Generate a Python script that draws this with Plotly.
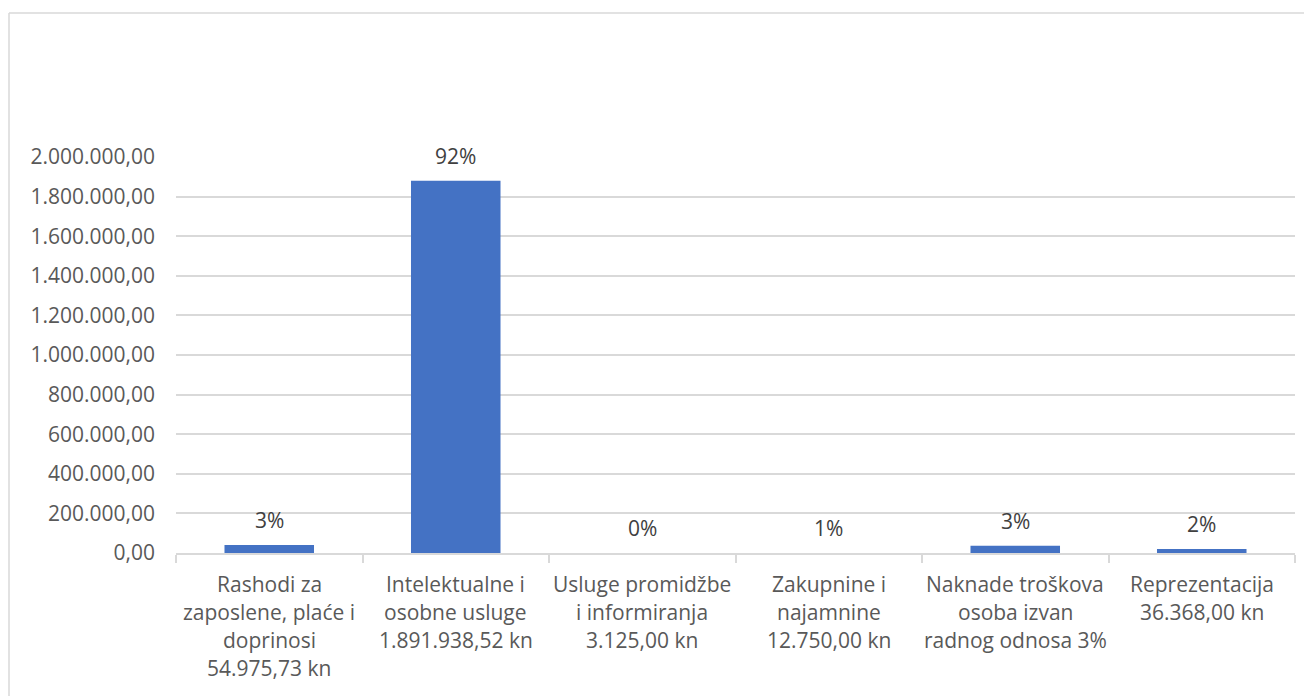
import plotly.graph_objects as go

# Categories (each as list of label lines)
category_lines = [
    ["Rashodi za", "zaposlene, plaće i", "doprinosi", "54.975,73 kn"],
    ["Intelektualne i", "osobne usluge", "1.891.938,52 kn"],
    ["Usluge promidžbe", "i informiranja", "3.125,00 kn"],
    ["Zakupnine i", "najamnine", "12.750,00 kn"],
    ["Naknade troškova", "osoba izvan", "radnog odnosa 3%"],
    ["Reprezentacija", "36.368,00 kn"],
]
categories = [" ".join(l) for l in category_lines]

# Bar heights
values = [40000, 1880000, 0, 0, 36000, 20000]

# Percentage labels
pct_labels = ["3%", "92%", "0%", "1%", "3%", "2%"]

# Y ticks
y_ticks = [0, 200000, 400000, 600000, 800000, 1000000, 1200000, 1400000,
           1600000, 1800000, 2000000]

FONT = "Open Sans"
FS = 21
TXT = "#595959"
GRID = "#d9d9d9"

fig = go.Figure()
fig.add_trace(go.Bar(
    x=categories, y=values,
    marker=dict(color="#4472C4", line=dict(width=0)),
    hoverinfo="skip",
))

annotations = []
for cat, val, pct in zip(categories, values, pct_labels):
    annotations.append(dict(
        x=cat, y=val, xref="x", yref="y", text=pct, showarrow=False,
        yanchor="middle", yshift=25,
        font=dict(family=FONT, size=FS, color="#404040"),
    ))
for cat, lines in zip(categories, category_lines):
    for i, line in enumerate(lines):
        annotations.append(dict(
            x=cat, y=0, xref="x", yref="y", text=line, showarrow=False,
            yanchor="middle", yshift=-(31 + 28 * i),
            font=dict(family=FONT, size=FS, color=TXT),
        ))

fig.update_layout(
    width=1304, height=688,
    margin=dict(l=168, r=17, t=149, b=143),
    paper_bgcolor="white", plot_bgcolor="white",
    separators=",.",
    bargap=0.52,
    showlegend=False,
    annotations=annotations,
    font=dict(family=FONT, size=FS, color=TXT),
    shapes=[
        dict(type="line", xref="paper", yref="paper",
             x0=-167 / 1119, x1=1.2,
             y0=540 / 396, y1=540 / 396,
             line=dict(color=GRID, width=1.5)),
        dict(type="line", xref="paper", yref="paper",
             x0=-167 / 1119, x1=-167 / 1119,
             y0=540 / 396, y1=-0.5,
             line=dict(color=GRID, width=1.5)),
    ],
)
fig.update_xaxes(
    showticklabels=False,
    showline=True, linecolor=GRID, linewidth=1.5,
    ticks="outside", tickson="boundaries", ticklen=8, tickcolor=GRID, tickwidth=1.5,
    showgrid=False, fixedrange=True,
)
fig.update_yaxes(
    range=[0, 2000000],
    tickvals=y_ticks, tickformat=",.2f",
    showgrid=True, gridcolor=GRID, gridwidth=1.5,
    zeroline=False, showline=False,
    tickfont=dict(family=FONT, size=FS, color=TXT),
    ticklabelstandoff=20,
    fixedrange=True,
)

fig.write_html("out.html", config={"displayModeBar": False})
